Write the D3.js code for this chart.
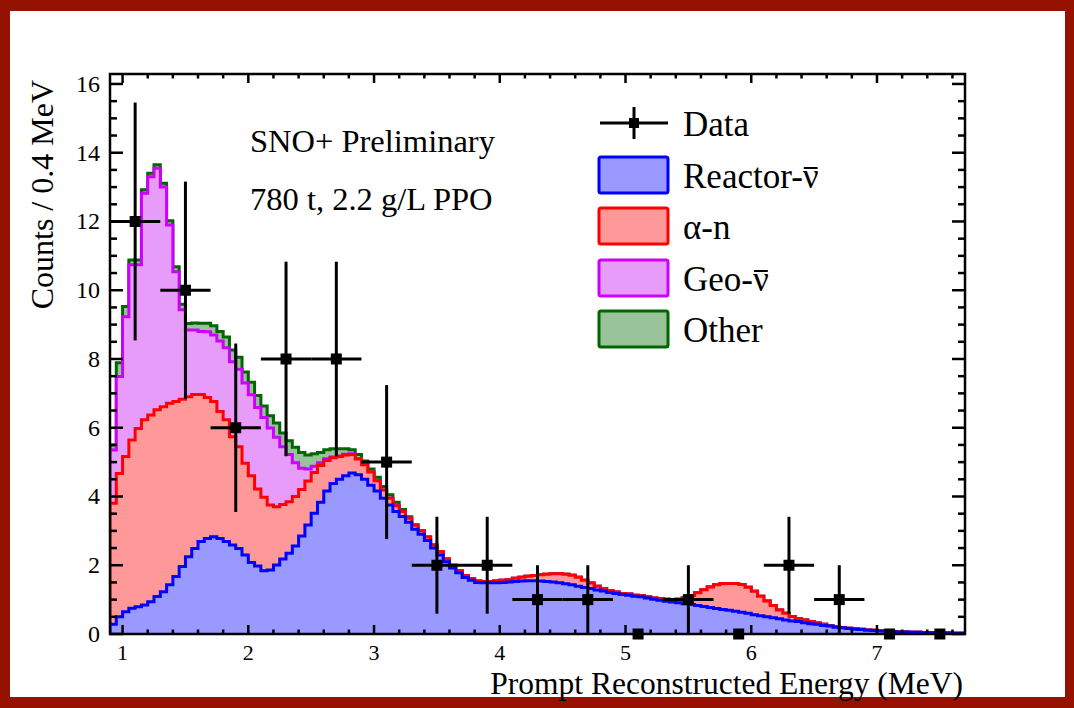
<!DOCTYPE html>
<html>
<head>
<meta charset="utf-8">
<script src="https://cdn.jsdelivr.net/npm/d3@7"></script>
<style>
  body { margin: 0; background: #951200; }
  svg { display: block; }
  text { font-family: "Liberation Serif", "Times New Roman", serif; fill: #000; }
</style>
</head>
<body>
<svg id="chart" width="1074" height="708"></svg>
<script>
// histogram binning (MeV)
const binStart = 0.9,
      binWidth = 0.05;

// expected counts per bin, one array per stacked component
const reactor = [
  0.28,0.50,0.65,0.75,0.79,0.84,0.94,1.09,1.23,1.43,
  1.67,1.96,2.25,2.49,2.69,2.78,2.83,2.78,2.69,2.59,
  2.49,2.30,2.08,1.98,1.84,1.86,2.01,2.18,2.35,2.56,
  2.85,3.17,3.51,3.83,4.16,4.38,4.50,4.60,4.68,4.63,
  4.50,4.33,4.16,3.95,3.75,3.56,3.42,3.25,3.05,2.90,
  2.72,2.50,2.30,2.10,1.92,1.78,1.64,1.56,1.50,1.49,
  1.49,1.49,1.50,1.51,1.53,1.54,1.55,1.55,1.54,1.53,
  1.51,1.49,1.46,1.43,1.39,1.35,1.32,1.28,1.25,1.21,
  1.18,1.15,1.13,1.10,1.08,1.05,1.01,0.98,0.95,0.93,
  0.91,0.88,0.86,0.83,0.80,0.77,0.74,0.71,0.69,0.66,
  0.63,0.60,0.56,0.53,0.50,0.47,0.44,0.41,0.38,0.36,
  0.33,0.30,0.28,0.25,0.23,0.20,0.18,0.16,0.14,0.13,
  0.11,0.10,0.09,0.08,0.07,0.06,0.06,0.05,0.05,0.04,
  0.04,0.03,0.03,0.03,0.02,0.02
];
const alphaN = [
  3.52,4.17,4.51,4.89,5.19,5.39,5.43,5.43,5.38,5.28,
  5.09,4.87,4.65,4.48,4.28,4.10,3.93,3.69,3.54,3.15,
  2.96,2.67,2.52,2.24,2.14,1.89,1.69,1.59,1.50,1.44,
  1.35,1.28,1.19,1.07,0.89,0.75,0.66,0.61,0.54,0.46,
  0.42,0.38,0.30,0.24,0.20,0.17,0.14,0.12,0.11,0.10,
  0.10,0.09,0.09,0.08,0.08,0.07,0.06,0.05,0.04,0.04,
  0.04,0.05,0.06,0.07,0.09,0.11,0.13,0.15,0.18,0.21,
  0.24,0.26,0.28,0.28,0.26,0.21,0.16,0.11,0.07,0.05,
  0.04,0.03,0.03,0.03,0.03,0.03,0.04,0.05,0.06,0.07,
  0.10,0.17,0.26,0.37,0.49,0.60,0.69,0.75,0.78,0.81,
  0.81,0.76,0.68,0.57,0.46,0.36,0.26,0.19,0.13,0.09,
  0.08,0.06,0.04,0.03,0.01,0.01,0.01,0.01,0.01,0.01,
  0.01,0.01,0,0,0,0,0,0,0,0,
  0,0,0,0,0,0
];
const geo = [
  1.55,2.82,4.07,5.10,4.76,6.59,6.93,7.03,6.39,5.19,
  3.78,2.60,1.94,1.87,1.83,1.91,1.94,2.05,2.10,2.18,
  2.25,2.33,2.36,2.37,2.32,2.24,2.02,1.68,1.37,0.98,
  0.62,0.35,0.18,0.08,0.05,0.02,0.02,0.02,0.02,0.01,
  0,0,0,0,0,0,0,0,0,0,
  0,0,0,0,0,0,0,0,0,0,
  0,0,0,0,0,0,0,0,0,0,
  0,0,0,0,0,0,0,0,0,0,
  0,0,0,0,0,0,0,0,0,0,
  0,0,0,0,0,0,0,0,0,0,
  0,0,0,0,0,0,0,0,0,0,
  0,0,0,0,0,0,0,0,0,0,
  0,0,0,0,0,0,0,0,0,0,
  0,0,0,0,0,0
];
const other = [
  0.15,0.40,0.30,0.14,0.14,0.10,0.10,0.10,0.11,0.12,
  0.14,0.16,0.19,0.21,0.24,0.25,0.27,0.28,0.31,0.34,
  0.35,0.32,0.36,0.35,0.33,0.36,0.42,0.40,0.40,0.45,
  0.46,0.41,0.36,0.30,0.26,0.24,0.21,0.16,0.12,0.12,
  0.11,0.09,0.10,0.10,0.10,0.10,0.06,0.04,0.02,0.01,
  0,0,0,0,0,0,0,0,0,0,
  0,0,0,0,0,0,0,0,0,0,
  0,0,0,0,0,0,0,0,0,0,
  0,0,0,0,0,0,0,0,0,0,
  0,0,0,0,0,0,0,0,0,0,
  0,0,0,0,0,0,0,0,0,0,
  0,0,0,0,0,0,0,0,0,0,
  0,0,0,0,0,0,0,0,0,0,
  0,0,0,0,0,0
];

// observed events, 0.4 MeV bins
const dataEnergy = [1.1, 1.5, 1.9, 2.3, 2.7, 3.1, 3.5, 3.9, 4.3, 4.7, 5.1, 5.5, 5.9, 6.3, 6.7, 7.1, 7.5];
const dataCounts = [12, 10, 6, 8, 8, 5, 2, 2, 1, 1, 0, 1, 0, 2, 1, 0, 0];
const dataErr    = [3.46, 3.16, 2.45, 2.83, 2.83, 2.24, 1.41, 1.41, 1, 1, 0, 1, 0, 1.41, 1, 0, 0];
const dataHalfWidth = 0.2;

const xTickLabels = ['1', '2', '3', '4', '5', '6', '7'];
const yTickLabels = ['0', '2', '4', '6', '8', '10', '12', '14', '16'];
const legendLabels = ['Data', 'Reactor-ν', 'α-n', 'Geo-ν', 'Other'];
const annotations = ['SNO+ Preliminary', '780 t, 2.2 g/L PPO'];

const width = 1074, height = 708,
      frame = {left: 110, right: 965, top: 74, bottom: 634};

const series = [
  {key: 'reactor', fill: '#9999ff', stroke: '#0000ff'},
  {key: 'alphaN',  fill: '#ff9999', stroke: '#ff0000'},
  {key: 'geo',     fill: '#e89cfa', stroke: '#cc00ff'},
  {key: 'other',   fill: '#98c298', stroke: '#006600'}
];

const svg = d3.select('#chart');

// white panel inside the dark red border
svg.append('rect')
  .attr('x', 10).attr('y', 11)
  .attr('width', 1055).attr('height', 686)
  .attr('fill', '#fff');

const x = d3.scaleLinear().domain([0.9, 7.7]).range([frame.left, frame.right]);
const y = d3.scaleLinear().domain([0, 16.29]).range([frame.bottom, frame.top]);

// one row per bin, plus a closing row at the upper edge for the step curve
const rows = reactor.map((v, i) => ({
  e: binStart + i * binWidth,
  reactor: v, alphaN: alphaN[i], geo: geo[i], other: other[i]
}));
rows.push(Object.assign({}, rows[rows.length - 1], {e: binStart + reactor.length * binWidth}));

const stacked = d3.stack().keys(series.map(s => s.key))(rows);

svg.append('clipPath').attr('id', 'frameClip')
  .append('rect')
  .attr('x', frame.left).attr('y', frame.top)
  .attr('width', frame.right - frame.left).attr('height', frame.bottom - frame.top);

const hist = svg.append('g').attr('clip-path', 'url(#frameClip)');

const area = d3.area()
  .curve(d3.curveStepAfter)
  .x(d => x(d.data.e))
  .y0(y(0))
  .y1(d => y(d[1]));

const outline = d3.line()
  .curve(d3.curveStepAfter)
  .x(d => x(d[0]))
  .y(d => y(d[1]));

// draw like a ROOT THStack: the total first, each lower sum on top of it
stacked.slice().reverse().forEach(layer => {
  const s = series.find(d => d.key === layer.key);
  hist.append('path')
    .attr('d', area(layer))
    .attr('fill', s.fill);
  const pts = [[layer[0].data.e, 0]]
    .concat(layer.map(d => [d.data.e, d[1]]))
    .concat([[layer[layer.length - 1].data.e, 0]]);
  hist.append('path')
    .attr('d', outline(pts))
    .attr('fill', 'none')
    .attr('stroke', s.stroke)
    .attr('stroke-width', 3)
    .attr('stroke-linejoin', 'miter');
});

// data points with error bars
const pts = svg.append('g');
dataEnergy.forEach((e, i) => {
  if (dataCounts[i] > 0) {
    pts.append('line')
      .attr('x1', x(e)).attr('x2', x(e))
      .attr('y1', y(dataCounts[i] - dataErr[i])).attr('y2', y(dataCounts[i] + dataErr[i]))
      .attr('stroke', '#000').attr('stroke-width', 3);
    pts.append('line')
      .attr('x1', x(e - dataHalfWidth)).attr('x2', x(e + dataHalfWidth))
      .attr('y1', y(dataCounts[i])).attr('y2', y(dataCounts[i]))
      .attr('stroke', '#000').attr('stroke-width', 3);
  }
});
pts.selectAll('rect.marker')
  .data(dataEnergy)
  .join('rect')
  .attr('class', 'marker')
  .attr('x', d => x(d) - 5.5)
  .attr('y', (d, i) => y(dataCounts[i]) - 5.5)
  .attr('width', 11).attr('height', 11)
  .attr('fill', '#000');

// frame and ticks on all four sides, pointing inward
const axes = svg.append('g').attr('stroke', '#000').attr('stroke-width', 2.5);

const minorX = x.ticks(34).filter(t => Math.abs(t - Math.round(t)) > 1e-6);
const majorX = xTickLabels.map(Number);
const minorY = y.ticks(32).filter(t => Math.abs(t / 2 - Math.round(t / 2)) > 1e-6);
const majorY = yTickLabels.map(Number);

[[majorX, 9], [minorX, 4.5]].forEach(([vals, len]) => {
  vals.forEach(v => {
    axes.append('line').attr('x1', x(v)).attr('x2', x(v))
      .attr('y1', frame.bottom).attr('y2', frame.bottom - len);
    axes.append('line').attr('x1', x(v)).attr('x2', x(v))
      .attr('y1', frame.top).attr('y2', frame.top + len);
  });
});
[[majorY, 13], [minorY, 7]].forEach(([vals, len]) => {
  vals.forEach(v => {
    axes.append('line').attr('y1', y(v)).attr('y2', y(v))
      .attr('x1', frame.left).attr('x2', frame.left + len);
    axes.append('line').attr('y1', y(v)).attr('y2', y(v))
      .attr('x1', frame.right).attr('x2', frame.right - len);
  });
});

axes.append('rect')
  .attr('x', frame.left).attr('y', frame.top)
  .attr('width', frame.right - frame.left).attr('height', frame.bottom - frame.top)
  .attr('fill', 'none');

// tick labels
svg.append('g').selectAll('text')
  .data(xTickLabels)
  .join('text')
  .attr('x', d => x(+d))
  .attr('y', 660)
  .attr('text-anchor', 'middle')
  .attr('font-size', 22)
  .text(d => d);

svg.append('g').selectAll('text')
  .data(yTickLabels)
  .join('text')
  .attr('x', 100)
  .attr('y', d => y(+d) + 8)
  .attr('text-anchor', 'end')
  .attr('font-size', 24)
  .text(d => d);

// axis titles
svg.append('text')
  .attr('x', 963).attr('y', 693.5)
  .attr('text-anchor', 'end')
  .attr('font-size', 31.5)
  .text('Prompt Reconstructed Energy (MeV)');

svg.append('text')
  .attr('transform', 'translate(53,80) rotate(-90)')
  .attr('text-anchor', 'end')
  .attr('font-size', 32)
  .text('Counts / 0.4 MeV');

// annotations
svg.append('g').selectAll('text')
  .data(annotations)
  .join('text')
  .attr('x', 250)
  .attr('y', (d, i) => 152 + i * 58)
  .attr('font-size', 32.5)
  .text(d => d);

// legend
const legend = svg.append('g');
const rowY = [123, 175, 226, 278, 329];

legend.append('line')
  .attr('x1', 600).attr('x2', 668).attr('y1', rowY[0]).attr('y2', rowY[0])
  .attr('stroke', '#000').attr('stroke-width', 3);
legend.append('line')
  .attr('x1', 634).attr('x2', 634).attr('y1', rowY[0] - 16).attr('y2', rowY[0] + 16)
  .attr('stroke', '#000').attr('stroke-width', 3);
legend.append('rect')
  .attr('x', 629).attr('y', rowY[0] - 5).attr('width', 10).attr('height', 10)
  .attr('fill', '#000');

series.forEach((s, i) => {
  legend.append('rect')
    .attr('x', 599).attr('y', rowY[i + 1] - 18)
    .attr('width', 69).attr('height', 36)
    .attr('rx', 2)
    .attr('fill', s.fill)
    .attr('stroke', s.stroke)
    .attr('stroke-width', 3);
});

legendLabels.forEach((lab, i) => {
  const t = legend.append('text')
    .attr('x', 683)
    .attr('y', rowY[i] + 13)
    .attr('font-size', 35)
    .text(lab);
  const k = lab.indexOf('ν');
  if (k >= 0) {
    const node = t.node();
    const a = node.getStartPositionOfChar(k), b = node.getEndPositionOfChar(k);
    legend.append('line')
      .attr('x1', a.x + 1).attr('x2', b.x - 1)
      .attr('y1', rowY[i] + 13 - 20).attr('y2', rowY[i] + 13 - 20)
      .attr('stroke', '#000').attr('stroke-width', 2);
  }
});
</script>
</body>
</html>
